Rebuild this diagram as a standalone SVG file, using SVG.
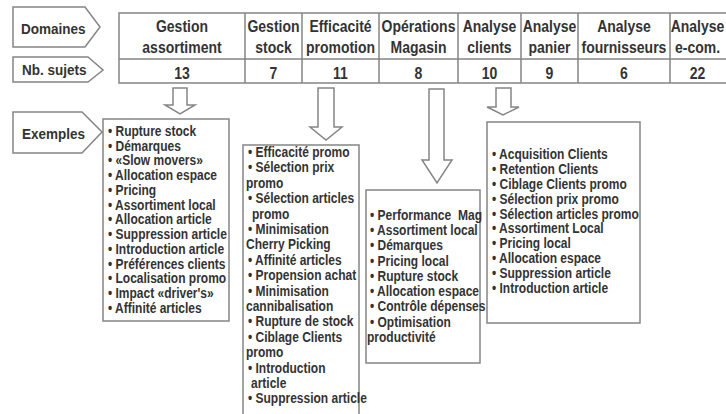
<svg xmlns="http://www.w3.org/2000/svg" width="726" height="414" viewBox="0 0 726 414">
<style>
.ln{fill:#fff;stroke:#858585;stroke-width:1.5}
.tl{fill:none;stroke:#858585;stroke-width:1.5}
.h{font-family:"Liberation Sans",Arial,sans-serif;font-weight:bold;font-size:14px;fill:#333;text-anchor:middle}
.lb{font-family:"Liberation Sans",Arial,sans-serif;font-weight:bold;font-size:13.5px;fill:#333}
.t{font-family:"Liberation Sans",Arial,sans-serif;font-weight:bold;font-size:12px;fill:#333;white-space:pre}
</style>
<rect width="726" height="414" fill="#fff"/>
<g id="label-domaines">
<path class="ln" d="M13,7 H85 L100,27 L85,47 H13 Z"/>
<text class="lb" transform="translate(21,34) scale(1,1.15)">Domaines</text>
</g>
<g id="label-nbsujets">
<path class="ln" d="M13,57 H88 L103,70 L88,82 H13 Z"/>
<text class="lb" transform="translate(22,75) scale(1,1.15)">Nb. sujets</text>
</g>
<g id="label-exemples">
<path class="ln" d="M13,112 H82 L102,132 L82,153 H13 Z"/>
<text class="lb" transform="translate(22,139) scale(1,1.15)">Exemples</text>
</g>
<g id="table">
<rect class="tl" x="119" y="13" width="609" height="70"/>
<path class="tl" d="M119,59 H728 M245,13 V83 M302,13 V83 M379,13 V83 M458,13 V83 M521,13 V83 M578,13 V83 M670,13 V83"/>
<g transform="translate(0,32) scale(1,1.15)">
<text class="h" x="182" y="0">Gestion</text>
<text class="h" x="273.5" y="0">Gestion</text>
<text class="h" x="340.5" y="0">Efficacité</text>
<text class="h" x="418.5" y="0">Opérations</text>
<text class="h" x="489.5" y="0">Analyse</text>
<text class="h" x="549.5" y="0">Analyse</text>
<text class="h" x="624" y="0">Analyse</text>
<text class="h" x="697.5" y="0">Analyse</text>
</g>
<g transform="translate(0,53) scale(1,1.15)">
<text class="h" x="182" y="0">assortiment</text>
<text class="h" x="273.5" y="0">stock</text>
<text class="h" x="340.5" y="0">promotion</text>
<text class="h" x="418.5" y="0">Magasin</text>
<text class="h" x="489.5" y="0">clients</text>
<text class="h" x="549.5" y="0">panier</text>
<text class="h" x="624" y="0">fournisseurs</text>
<text class="h" x="697.5" y="0">e-com.</text>
</g>
<g transform="translate(0,78.5) scale(1,1.15)">
<text class="h" x="182" y="0">13</text>
<text class="h" x="273.5" y="0">7</text>
<text class="h" x="340.5" y="0">11</text>
<text class="h" x="418.5" y="0">8</text>
<text class="h" x="489.5" y="0">10</text>
<text class="h" x="549.5" y="0">9</text>
<text class="h" x="624" y="0">6</text>
<text class="h" x="697.5" y="0">22</text>
</g>
</g>
<g id="connectors">
<polygon class="ln" points="173,88 187,88 187,105 195,105 180,114 165,105 173,105"/>
<polygon class="ln" points="318,88 334,88 334,127 342,127 326,140 310,127 318,127"/>
<polygon class="ln" points="429,89 444,89 444,160 452,160 437,183 422,160 429,160"/>
<polygon class="ln" points="496,88 511,88 511,107 519,107 503,115 487,107 496,107"/>
</g>
<g id="box-gestion-assortiment">
<rect class="ln" x="103" y="119" width="126" height="202"/>
<g transform="translate(0,136) scale(1,1.15)">
<text class="t" x="108" y="0">• Rupture stock</text>
<text class="t" x="108" y="12.83">• Démarques</text>
<text class="t" x="108" y="25.65">• «Slow movers»</text>
<text class="t" x="108" y="38.48">• Allocation espace</text>
<text class="t" x="108" y="51.30">• Pricing</text>
<text class="t" x="108" y="64.13">• Assortiment local</text>
<text class="t" x="108" y="76.96">• Allocation article</text>
<text class="t" x="108" y="89.78">• Suppression article</text>
<text class="t" x="108" y="102.61">• Introduction article</text>
<text class="t" x="108" y="115.43">• Préférences clients</text>
<text class="t" x="108" y="128.26">• Localisation promo</text>
<text class="t" x="108" y="141.09">• Impact «driver's»</text>
<text class="t" x="108" y="153.91">• Affinité articles</text>
</g>
</g>
<g id="box-efficacite-promotion">
<rect class="ln" x="243" y="145" width="116" height="275"/>
<g transform="translate(0,157) scale(1,1.15)">
<text class="t" x="248" y="0">• Efficacité promo</text>
<text class="t" x="248" y="13.39">• Sélection prix</text>
<text class="t" x="246" y="26.78">promo</text>
<text class="t" x="248" y="40.17">• Sélection articles</text>
<text class="t" x="252" y="53.57">promo</text>
<text class="t" x="248" y="66.96">• Minimisation</text>
<text class="t" x="246" y="80.35">Cherry Picking</text>
<text class="t" x="248" y="93.74">• Affinité articles</text>
<text class="t" x="248" y="107.13">• Propension achat</text>
<text class="t" x="248" y="120.52">• Minimisation</text>
<text class="t" x="246" y="133.91">cannibalisation</text>
<text class="t" x="248" y="147.30">• Rupture de stock</text>
<text class="t" x="248" y="160.70">• Ciblage Clients</text>
<text class="t" x="246" y="174.09">promo</text>
<text class="t" x="248" y="187.48">• Introduction</text>
<text class="t" x="251" y="200.87">article</text>
<text class="t" x="248" y="214.26">• Suppression article</text>
</g>
</g>
<g id="box-operations-magasin">
<rect class="ln" x="366" y="190" width="114" height="173"/>
<g transform="translate(0,220) scale(1,1.15)">
<text class="t" x="370" y="0" textLength="112" lengthAdjust="spacingAndGlyphs">• Performance  Mag</text>
<text class="t" x="370" y="13.26">• Assortiment local</text>
<text class="t" x="370" y="26.52">• Démarques</text>
<text class="t" x="370" y="39.78">• Pricing local</text>
<text class="t" x="370" y="53.04">• Rupture stock</text>
<text class="t" x="370" y="66.30">• Allocation espace</text>
<text class="t" x="370" y="79.57">• Contrôle dépenses</text>
<text class="t" x="370" y="92.83">• Optimisation</text>
<text class="t" x="367" y="106.09">productivité</text>
</g>
</g>
<g id="box-analyse-clients">
<rect class="ln" x="487" y="122" width="153" height="201"/>
<g transform="translate(0,159) scale(1,1.15)">
<text class="t" x="492" y="0">• Acquisition Clients</text>
<text class="t" x="492" y="12.96">• Retention Clients</text>
<text class="t" x="492" y="25.91">• Ciblage Clients promo</text>
<text class="t" x="492" y="38.87">• Sélection prix promo</text>
<text class="t" x="492" y="51.83">• Sélection articles promo</text>
<text class="t" x="492" y="64.78">• Assortiment Local</text>
<text class="t" x="492" y="77.74">• Pricing local</text>
<text class="t" x="492" y="90.70">• Allocation espace</text>
<text class="t" x="492" y="103.65">• Suppression article</text>
<text class="t" x="492" y="116.61">• Introduction article</text>
</g>
</g>
</svg>
